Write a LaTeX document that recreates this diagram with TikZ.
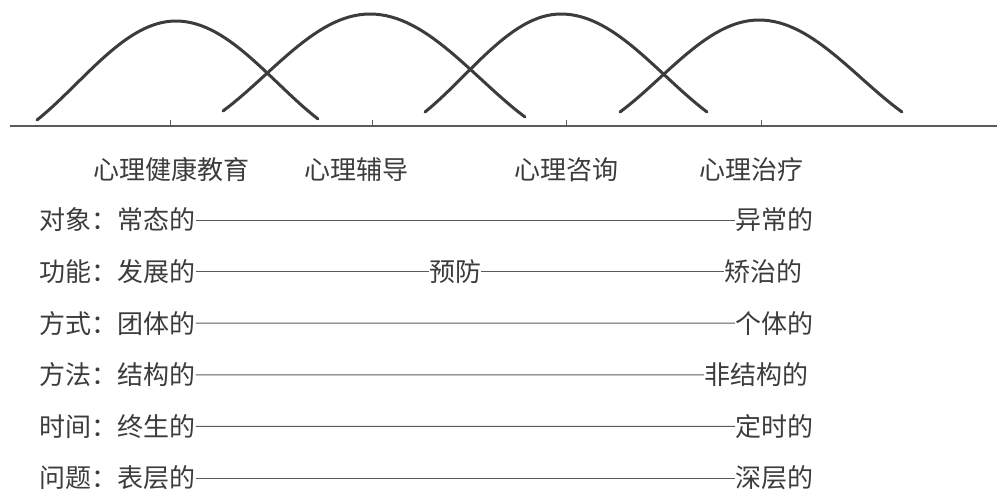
\documentclass[tikz,border=0pt]{standalone}
\usepackage{fontspec}
\newfontfamily\cjk{Noto Sans CJK SC}
\usetikzlibrary{positioning}
\definecolor{ink}{HTML}{3C3C3C}
\definecolor{rule}{HTML}{5A5A5A}

\begin{document}
\begin{tikzpicture}[x=0.5pt, y=0.5pt, node distance=25.8pt]
\tikzstyle{lbl}=[inner sep=0pt, text=ink, font=\cjk\fontsize{13pt}{15pt}\selectfont]
\tikzstyle{bell}=[draw=ink, line width=1.5pt, line cap=round]
\tikzstyle{axis}=[draw=rule, line width=0.8pt]
\tikzstyle{link}=[draw=rule, line width=0.5pt]

\useasboundingbox (0,0) rectangle (997,-489);

% axis and ticks
\draw[axis] (10,-126) -- (997,-126);
\foreach \t in {170,372,566,761}
  \draw[axis, line width=0.5pt] (\t,-126) -- (\t,-120);

% overlapping bells: start / peak / end
\foreach \xs/\ys/\xp/\yp/\xe/\ye in {37/120/176/21/318/119, 223/111/370/14/525/117,
                                     425/112/561/14/707/112, 620/112/759/20/902/112}
  \draw[bell] plot[domain=-1:0, samples=30, variable=\u]
      ({\xp+\u*(\xp-\xs)}, {-(\ys+(\yp-\ys)*(cos(126*\u)+0.5878)/1.5878)})
    -- plot[domain=0:1, samples=30, variable=\u]
      ({\xp+\u*(\xe-\xp)}, {-(\ye+(\yp-\ye)*(cos(126*\u)+0.5878)/1.5878)});

% stages
\node[lbl] (edu) at (171,-170) {心理健康教育};
\node[lbl] (gui) at (356,-170) {心理辅导};
\node[lbl] (con) at (566,-170) {心理咨询};
\node[lbl] (the) at (751,-170) {心理治疗};

% left ends
\node[lbl] (obj) at (117.5,-220) {对象：常态的};
\node[lbl] (fun) [below of=obj] {功能：发展的};
\node[lbl] (way) [below of=fun] {方式：团体的};
\node[lbl] (mth) [below of=way] {方法：结构的};
\node[lbl] (tim) [below of=mth] {时间：终生的};
\node[lbl] (prb) [below of=tim] {问题：表层的};

% right ends
\node[lbl, anchor=east] (obj') at (814,-220)   {异常的};
\node[lbl]              (prev) at (455,-271.6) {预防};
\node[lbl, anchor=east] (fun') at (803,-271.6) {矫治的};
\node[lbl, anchor=east] (way') at (814,-323.2) {个体的};
\node[lbl, anchor=east] (mth') at (809,-374.8) {非结构的};
\node[lbl, anchor=east] (tim') at (814,-426.4) {定时的};
\node[lbl, anchor=east] (prb') at (814,-478)   {深层的};

\draw[link] (obj) -- (obj');
\draw[link] (fun) -- (prev) -- (fun');
\draw[link] (way) -- (way');
\draw[link] (mth) -- (mth');
\draw[link] (tim) -- (tim');
\draw[link] (prb) -- (prb');
\end{tikzpicture}
\end{document}
